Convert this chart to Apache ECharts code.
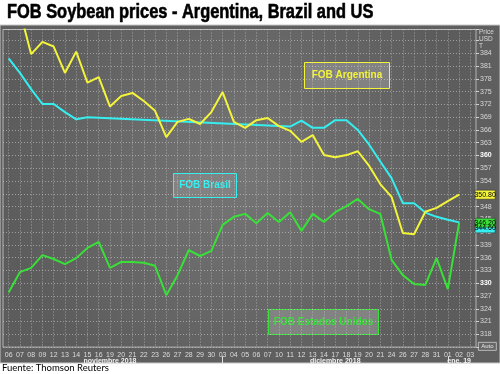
<!DOCTYPE html>
<html><head><meta charset="utf-8">
<script src="https://cdn.jsdelivr.net/npm/echarts@6/dist/echarts.min.js"></script>
<style>html,body{margin:0;padding:0;background:#fff;}#c{width:500px;height:374px;}</style>
</head><body><div id="c"></div>
<script>
const titleText = 'FOB Soybean prices - Argentina, Brazil and US';
const sourceText = 'Fuente: Thomson Reuters';
const axisUnit = 'Price\nUSD\nT';
const days = ['06','07','08','09','12','13','14','15','16','19','20','21','22','23','26','27','28','29','30',
              '03','04','05','06','07','10','11','12','13','14','17','18','19','20','21','24','26','27','28','31',
              '01','02','03'];
const monthNames = ['noviembre 2018','diciembre 2018','ene. 19'];
const monthLengths = [19, 20, 3];
const seriesNames = ['FOB Argentina','FOB Brasil','FOB Estados Unidos'];
const argentina = [396,394,383.8,386.7,385.6,379.4,384.4,377.1,378.4,371.5,374.0,374.7,372.8,370.5,364.3,367.9,368.6,367.4,370.2,374.9,
                   367.9,366.5,368.3,368.8,366.9,365.8,363.2,364.8,360.1,359.6,360.1,361.0,357.6,353.3,350.3,341.8,341.5,346.8,347.7,349.3,350.8];
const brasil = [382.8,379.4,375.6,372.1,372.1,370.2,368.5,369.0,null,null,null,null,null,null,null,null,null,null,null,null,
                null,null,null,null,null,366.8,368.2,366.5,366.5,368.3,368.3,366.0,362.6,358.6,354.7,348.8,348.8,346.6,345.6,344.9,344.3];
const eeuu = [327.8,332.6,333.6,336.6,335.7,334.5,335.9,338.3,339.7,333.6,335.0,335.0,334.8,334.1,327.2,331.9,337.8,336.4,337.6,343.7,
              345.6,346.3,344.1,346.5,344.4,346.7,342.3,346.3,344.4,346.7,348.1,349.8,347.4,346.3,335.5,331.9,329.8,329.6,335.9,328.6,344.2];
const lastQuotes = [350.80, 344.60, 346.20];

const colors = ['#f4f43a', '#35eef0', '#38e038'];
const quoteOffsetsY = [0, 6, 0];

const monthStarts = [];
const monthMiddles = {};
let acc = 0;
monthLengths.forEach((len, i) => { monthStarts.push(acc); monthMiddles[acc + Math.floor(len / 2)] = monthNames[i]; acc += len; });

const dataSets = [argentina, brasil, eeuu];
const series = dataSets.map((d, i) => ({
  name: seriesNames[i], type: 'line', data: d, connectNulls: true,
  symbol: 'none', smooth: false, animation: false,
  lineStyle: { color: colors[i], width: 2 }, itemStyle: { color: colors[i] },
  z: 3 + (2 - i),
  markPoint: {
    symbol: 'rect', symbolSize: [20, 9], symbolOffset: [26, quoteOffsetsY[i]],
    itemStyle: { color: colors[i], borderColor: '#333', borderWidth: 0.5 },
    label: { show: true, position: 'inside', color: '#000', fontSize: 7, fontFamily: 'Liberation Sans', formatter: lastQuotes[i].toFixed(2) },
    data: [{ coord: [d.length - 1, d[d.length - 1]] }],
    animation: false
  }
}));

function legendBox(cx, cy, w, h, text, color) {
  return {
    type: 'group', left: cx - w / 2, top: cy - h / 2, z: 20,
    children: [
      { type: 'rect', shape: { x: 0, y: 0, width: w, height: h }, style: { fill: '#828282', stroke: color, lineWidth: 1 } },
      { type: 'text', x: w / 2, y: h / 2, style: { text: text, fill: color, font: 'bold 10px "Liberation Sans", Arial, sans-serif', align: 'center', verticalAlign: 'middle' } }
    ]
  };
}

const chart = echarts.init(document.getElementById('c'), null, { renderer: 'canvas' });
chart.setOption({
  backgroundColor: '#ffffff',
  animation: false,
  grid: {
    left: 3, right: 24, top: 29.5, bottom: 26.9, show: true,
    backgroundColor: { type: 'radial', x: 0.5, y: 0.45, r: 0.75, colorStops: [{ offset: 0, color: '#767676' }, { offset: 1, color: '#5c5c5c' }] },
    borderColor: '#b4b4b4', borderWidth: 1
  },
  xAxis: [{
    type: 'category', data: days, boundaryGap: true, position: 'bottom',
    axisLine: { show: false }, axisTick: { show: false },
    axisLabel: { interval: 0, fontSize: 7, color: '#dcdcdc', margin: 4, fontFamily: 'Liberation Sans' },
    splitLine: { show: true, interval: 0, alignWithLabel: true, lineStyle: { color: 'rgba(215,215,215,0.55)', type: [1, 2], width: 1 } }
  }, {
    type: 'category', data: days, boundaryGap: true, position: 'bottom', offset: 9,
    axisLine: { show: false },
    axisTick: { show: true, alignWithLabel: true, length: 8, interval: (idx) => monthStarts.indexOf(idx) > 0, lineStyle: { color: '#e0e0e0' } },
    axisLabel: { interval: 0, fontSize: 7, fontWeight: 'bold', color: '#f0f0f0', margin: 1, fontFamily: 'Liberation Sans',
      formatter: (v, idx) => monthMiddles[idx] || '' },
    splitLine: { show: false }
  }],
  yAxis: {
    type: 'value', position: 'right', min: 315, max: 389.6, interval: 3,
    axisLine: { show: false },
    axisTick: { show: true, length: 3, lineStyle: { color: '#d0d0d0' } },
    axisLabel: {
      fontSize: 7, color: '#d8d8d8', margin: 4, fontFamily: 'Liberation Sans',
      formatter: (v) => (v >= 318 && v <= 384) ? ((v === 360 || v === 330) ? '{b|' + v + '}' : String(v)) : '',
      rich: { b: { fontSize: 7, fontWeight: 'bold', color: '#ffffff', fontFamily: 'Liberation Sans' } }
    },
    splitLine: { show: true, lineStyle: { color: 'rgba(215,215,215,0.55)', type: [1, 2], width: 1 } }
  },
  series: series,
  graphic: [
    { type: 'rect', shape: { x: 0, y: 25, width: 500, height: 338 }, z: -100, silent: true,
      style: { fill: '#5f5f5f', stroke: '#c8c8c8', lineWidth: 1 } },
    { type: 'text', x: 7, y: 2, scaleX: 0.82, z: 10, style: { text: titleText, fill: '#000', stroke: '#000', lineWidth: 0.6, font: 'bold 20px "Liberation Sans", Arial, sans-serif' } },
    { type: 'text', left: 2, top: 363, z: 10, style: { text: sourceText, fill: '#000', font: '9.5px Lato, "Liberation Sans", sans-serif' } },
    { type: 'text', left: 479, top: 29, z: 10, style: { text: axisUnit, fill: '#d8d8d8', font: '6.5px "Liberation Sans", sans-serif', lineHeight: 7 } },
    { type: 'group', left: 478, top: 342, z: 10, children: [
      { type: 'rect', shape: { x: 0, y: 0, width: 18, height: 8 }, style: { fill: '#666', stroke: '#ddd', lineWidth: 0.7 } },
      { type: 'text', x: 9, y: 4, style: { text: 'Auto', fill: '#e8e8e8', font: '6px "Liberation Sans", sans-serif', align: 'center', verticalAlign: 'middle' } }
    ] },
    legendBox(346.5, 75, 85, 26, seriesNames[0], colors[0]),
    legendBox(204.5, 185, 63, 24, seriesNames[1], colors[1]),
    legendBox(323, 321.5, 110, 25, seriesNames[2], colors[2])
  ]
});
</script></body></html>
